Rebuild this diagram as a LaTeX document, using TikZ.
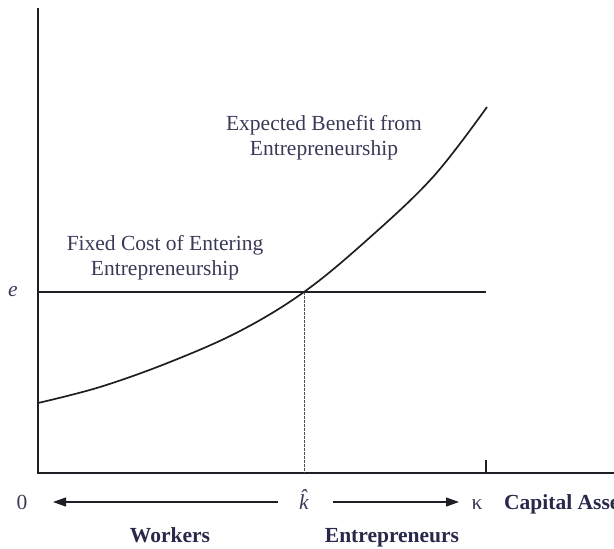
\documentclass[tikz,border=0pt]{standalone}
\usepackage{fontspec}
\setmainfont{Liberation Serif}
\usetikzlibrary{arrows.meta}
\definecolor{inkline}{HTML}{1E1E24}
\definecolor{inktext}{HTML}{3A3A58}
\definecolor{inkbold}{HTML}{28284A}
\tikzset{
  axisline/.style={draw=inkline, line width=1.6pt},
  curveline/.style={draw=inkline, line width=1.7pt},
  dashline/.style={draw=inkline!80, line width=0.9pt, dash pattern=on 2.5pt off 1.5pt},
  lbl/.style={text=inktext, font=\fontsize{21.5}{25}\selectfont, inner sep=0pt, align=center},
  boldlbl/.style={text=inkbold, font=\fontsize{21.5}{25}\selectfont\bfseries, inner sep=0pt, anchor=base},
  arrowline/.style={draw=inkline, line width=1.2pt, -{Triangle[length=13pt,width=9pt]}}
}
\begin{document}
\begin{tikzpicture}[x=1pt,y=-1pt]
\useasboundingbox (0,0) rectangle (614,549);
\clip (0,0) rectangle (614,549);
% axes
\coordinate (ytop) at (38,8);
\coordinate (orig) at (38,473);
\coordinate (xend) at (640,473);
\coordinate (tickb) at (486,473);
\coordinate (tickt) at (486,460);
\coordinate (eL) at (38,292);
\coordinate (eR) at (486,292);
\coordinate (cross) at (304,292);
\coordinate (crossb) at (304,473);
\draw[axisline] (ytop) -- (orig) -- (xend);
\draw[axisline, line width=1.2pt] (tickb) -- (tickt);
\draw[axisline] (eL) -- (eR);
\draw[dashline] (cross) -- (crossb);
% curve
\draw[curveline] plot[smooth, tension=0.6] coordinates {(38,403) (100,387) (170,362) (240,331) (304,292) (367,240) (433,177) (487,107)};
% labels
\node[lbl] (ben) at (324,138) {Expected Benefit from\\Entrepreneurship};
\node[lbl] (fix) at (165,258) {Fixed Cost of Entering\\Entrepreneurship};
\node[lbl, font=\fontsize{21.5}{25}\selectfont\itshape] (elab) at (13,292) {e};
\node[lbl, anchor=base] (zero) at (22,509) {0};
\node[lbl, anchor=base, font=\fontsize{21.5}{25}\selectfont\itshape] (khat) at (304,509) {\^k};
\node[lbl, anchor=base] (kappa) at (477,509) {κ};
\node[boldlbl, anchor=base west] (cap) at (504,509) {Capital Assets};
\node[boldlbl] (work) at (170,542) {Workers};
\node[boldlbl] (entr) at (392,542) {Entrepreneurs};
% arrows
\coordinate (la) at (278,502);
\coordinate (lb) at (53,502);
\coordinate (ra) at (333,502);
\coordinate (rb) at (459,502);
\draw[arrowline] (la) -- (lb);
\draw[arrowline] (ra) -- (rb);
\end{tikzpicture}
\end{document}
